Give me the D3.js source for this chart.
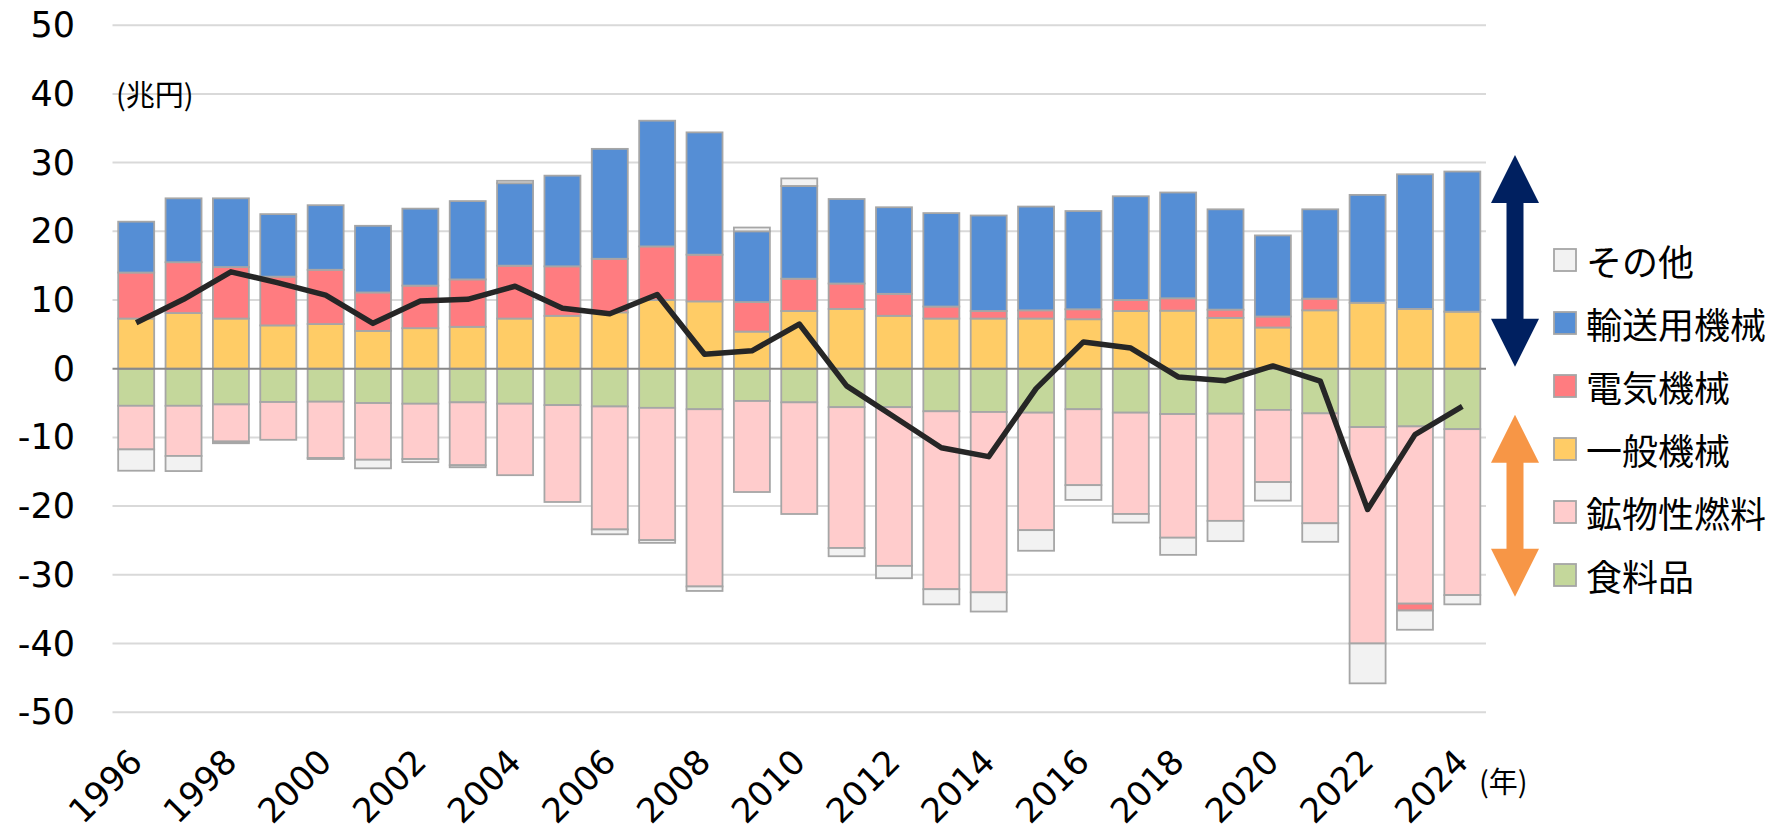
<!DOCTYPE html>
<html>
<head>
<meta charset="utf-8">
<script src="https://cdn.jsdelivr.net/npm/d3@7"></script>
<style>
    body { margin: 0; background: #ffffff; }
    svg { display: block; }
</style>
</head>
<body>
<svg id="chart" width="1776" height="832"></svg>
<script>

// 貿易収支の品目別寄与（兆円）
let years = d3.range(1996, 2025);

let food = [-5.4, -5.4, -5.2, -4.85, -4.8, -5.0, -5.1, -4.9, -5.1, -5.3, -5.5, -5.7, -5.9, -4.7, -4.9,
    -5.6, -5.6, -6.2, -6.3, -6.4, -5.9, -6.4, -6.6, -6.55, -6.0, -6.5, -8.5, -8.4, -8.8];
let fuel = [-6.35, -7.3, -5.4, -5.5, -8.2, -8.25, -8.05, -9.15, -10.4, -14.1, -17.9, -19.25, -25.8, -13.25, -16.25,
    -20.5, -23.1, -25.9, -26.25, -17.1, -11.05, -14.75, -18.0, -15.6, -10.5, -16.0, -31.5, -25.8, -24.15];
let general = [7.3, 8.1, 7.3, 6.3, 6.5, 5.5, 5.9, 6.1, 7.3, 7.7, 8.2, 10.0, 9.8, 5.4, 8.4,
    8.7, 7.7, 7.3, 7.3, 7.3, 7.2, 8.4, 8.45, 7.4, 6.0, 8.5, 9.6, 8.7, 8.3];
let electric = [6.7, 7.4, 7.5, 7.1, 7.9, 5.6, 6.2, 6.9, 7.7, 7.2, 7.8, 7.8, 6.8, 4.3, 4.7,
    3.7, 3.2, 1.75, 1.1, 1.2, 1.45, 1.6, 1.8, 1.2, 1.6, 1.7, 0, -1.0, 0];
let transport = [7.4, 9.3, 10.0, 9.1, 9.4, 9.7, 11.2, 11.4, 12.0, 13.2, 16.0, 18.3, 17.8, 10.3, 13.5,
    12.3, 12.6, 13.6, 13.9, 15.1, 14.3, 15.1, 15.4, 14.6, 11.8, 13.0, 15.7, 19.6, 20.4];
let other = [-3.1, -2.2, -0.25, 0, -0.15, -1.25, -0.45, -0.3, 0.35, 0, -0.7, -0.4, -0.65, 0.55, 1.1,
    -1.2, -1.8, -2.2, -2.8, -3.0, -2.15, -1.25, -2.5, -2.95, -2.7, -2.7, -5.8, -2.8, -1.35];
// 貿易収支（折れ線）
let balance = [6.7, 10.1, 14.1, 12.5, 10.7, 6.6, 9.85, 10.1, 12.0, 8.8, 8.0, 10.8, 2.1, 2.6, 6.5,
    -2.5, -7.0, -11.5, -12.8, -2.9, 3.9, 3.0, -1.2, -1.75, 0.4, -1.8, -20.5, -9.6, -5.5];

let yTicks = [50, 40, 30, 20, 10, 0, -10, -20, -30, -40, -50];
let xLabels = [1996, 1998, 2000, 2002, 2004, 2006, 2008, 2010, 2012, 2014, 2016, 2018, 2020, 2022, 2024];

// stack order: positives go up yellow->red->blue->other, negatives go down green->pink->red->other
let keys = ["食料品", "鉱物性燃料", "一般機械", "電気機械", "輸送用機械", "その他"];
let colors = {
    "食料品": "#C4D79B",
    "鉱物性燃料": "#FFCCCC",
    "一般機械": "#FFCC66",
    "電気機械": "#FF7C80",
    "輸送用機械": "#558ED5",
    "その他": "#F2F2F2"
};
let legendOrder = ["その他", "輸送用機械", "電気機械", "一般機械", "鉱物性燃料", "食料品"];

let rows = years.map(function(y, i) {
    return {
        year: y,
        "食料品": food[i],
        "鉱物性燃料": fuel[i],
        "一般機械": general[i],
        "電気機械": electric[i],
        "輸送用機械": transport[i],
        "その他": other[i]
    };
});

let numFont = "'DejaVu Sans', Verdana, sans-serif";
let jpFont = "'Noto Sans CJK JP', 'Noto Sans', sans-serif";

let svg = d3.select("#chart");

let x = d3.scaleBand()
    .domain(years)
    .range([112.5, 1486])
    .paddingInner(0.24)
    .paddingOuter(0.12);

let y = d3.scaleLinear()
    .domain([-50, 50])
    .range([712.2, 25.2]);

// gridlines
svg.append("g").selectAll("line")
    .data(yTicks.filter(function(d) { return d != 0; }))
    .join("line")
    .attr("x1", 112.5)
    .attr("x2", 1486)
    .attr("y1", function(d) { return y(d); })
    .attr("y2", function(d) { return y(d); })
    .style("stroke", "#D9D9D9")
    .style("stroke-width", 2);

// y axis labels
svg.append("g").selectAll("text")
    .data(yTicks)
    .join("text")
    .attr("x", 75)
    .attr("y", function(d) { return y(d); })
    .attr("text-anchor", "end")
    .attr("dominant-baseline", "central")
    .style("font-family", numFont)
    .style("font-size", "35px")
    .style("fill", "#000")
    .text(function(d) { return String(d); });

// stacked bars
let stack = d3.stack()
    .keys(keys)
    .offset(d3.stackOffsetDiverging);
let series = stack(rows);

svg.append("g").selectAll("g")
    .data(series)
    .join("g")
    .style("fill", function(d) { return colors[d.key]; })
    .selectAll("rect")
    .data(function(d) { return d.filter(function(p) { return p[1] - p[0] != 0; }); })
    .join("rect")
    .attr("x", function(d) { return x(d.data.year); })
    .attr("width", x.bandwidth())
    .attr("y", function(d) { return y(Math.max(d[0], d[1])); })
    .attr("height", function(d) { return Math.abs(y(d[0]) - y(d[1])); })
    .style("stroke", "#A6A6A6")
    .style("stroke-width", 1.8);

// zero line
svg.append("line")
    .attr("x1", 112.5)
    .attr("x2", 1486)
    .attr("y1", y(0))
    .attr("y2", y(0))
    .style("stroke", "#898989")
    .style("stroke-width", 2);

// balance line
let line = d3.line()
    .x(function(d, i) { return x(years[i]) + x.bandwidth() / 2; })
    .y(function(d) { return y(d); });

svg.append("path")
    .datum(balance)
    .attr("d", line)
    .style("fill", "none")
    .style("stroke", "#262626")
    .style("stroke-width", 5.5)
    .style("stroke-linejoin", "round");

// x axis labels
svg.append("g").selectAll("text")
    .data(xLabels)
    .join("text")
    .attr("transform", function(d) {
        return "translate(" + (x(d) + x.bandwidth() / 2 + 8) + ",764) rotate(-45)";
    })
    .attr("text-anchor", "end")
    .style("font-family", numFont)
    .style("font-size", "34px")
    .style("fill", "#000")
    .text(function(d) { return d; });

// units
svg.append("text")
    .attr("x", 116)
    .attr("y", 93)
    .attr("dominant-baseline", "central")
    .style("font-family", jpFont)
    .style("font-size", "29px")
    .text("(兆円)");

svg.append("text")
    .attr("x", 1479)
    .attr("y", 780)
    .attr("dominant-baseline", "central")
    .style("font-family", jpFont)
    .style("font-size", "29px")
    .text("(年)");

// double arrows
function doubleArrow(cx, yTop, yBottom, color) {
    let hw = 24, hh = 48, sw = 8.5;
    let pts = [
        [cx, yTop], [cx + hw, yTop + hh], [cx + sw, yTop + hh],
        [cx + sw, yBottom - hh], [cx + hw, yBottom - hh], [cx, yBottom],
        [cx - hw, yBottom - hh], [cx - sw, yBottom - hh], [cx - sw, yTop + hh],
        [cx - hw, yTop + hh]
    ];
    svg.append("path")
        .attr("d", "M" + pts.map(function(p) { return p.join(","); }).join("L") + "Z")
        .style("fill", color);
}
doubleArrow(1515, y(31.1), y(0.3), "#002060");
doubleArrow(1515, y(-6.7), y(-33.2), "#F79646");

// legend
let legend = svg.append("g")
    .attr("transform", "translate(1554, 260)");

let items = legend.selectAll("g")
    .data(legendOrder)
    .join("g")
    .attr("transform", function(d, i) { return "translate(0," + (i * 63) + ")"; });

items.append("rect")
    .attr("x", 0)
    .attr("y", -11)
    .attr("width", 22)
    .attr("height", 22)
    .style("fill", function(d) { return colors[d]; })
    .style("stroke", "#A6A6A6")
    .style("stroke-width", 1.8);

items.append("text")
    .attr("x", 32)
    .attr("y", 0)
    .attr("dominant-baseline", "central")
    .style("font-family", jpFont)
    .style("font-size", "36px")
    .style("fill", "#000")
    .text(function(d) { return d; });

</script>
</body>
</html>
